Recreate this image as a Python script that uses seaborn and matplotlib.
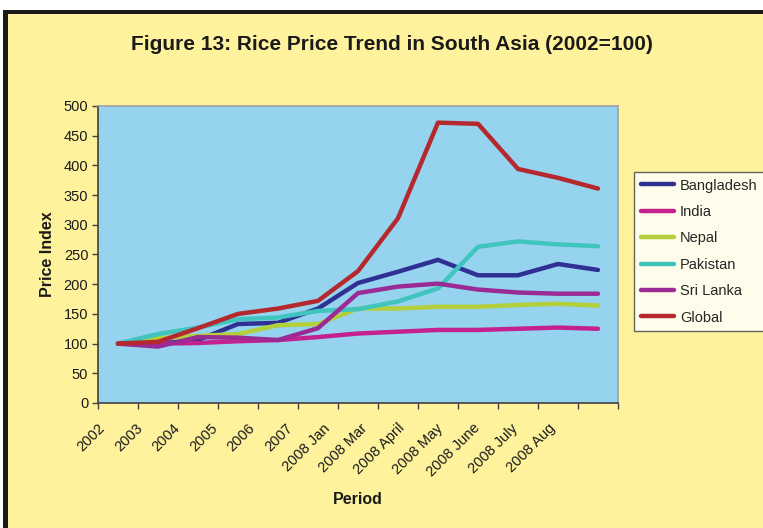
import pandas as pd
import numpy as np
import matplotlib
matplotlib.use("Agg")
import matplotlib.pyplot as plt
import seaborn as sns
from matplotlib.patches import Rectangle
from matplotlib.lines import Line2D
from matplotlib.transforms import ScaledTranslation

# data
periods = ["2002", "2003", "2004", "2005", "2006", "2007", "2008 Jan",
           "2008 Mar", "2008 April", "2008 May", "2008 June", "2008 July", "2008 Aug"]
countries = ["Bangladesh", "India", "Nepal", "Pakistan", "Sri Lanka", "Global"]

bangladesh = [100, 100, 106, 133, 135, 159, 202, 221, 241, 215, 215, 234, 224]
india = [100, 100, 101, 104, 106, 111, 117, 120, 123, 123, 125, 127, 125]
nepal = [100, 109, 113, 116, 131, 133, 159, 159, 162, 162, 165, 167, 164]
pakistan = [100, 116, 127, 141, 144, 155, 158, 171, 193, 263, 272, 267, 264]
sri_lanka = [100, 95, 111, 110, 106, 126, 185, 196, 201, 191, 186, 184, 184]
global_idx = [100, 103, 126, 150, 159, 172, 222, 311, 472, 470, 394, 379, 361]

colors = ["#2E3192", "#C4208E", "#B3CF3B", "#3FC4BE", "#9B2B94", "#B5292E"]

series = [bangladesh, india, nepal, pakistan, sri_lanka, global_idx]
df = pd.DataFrame({
    "pos": np.tile(np.arange(len(periods)), len(countries)),
    "value": np.concatenate(series),
    "country": np.repeat(countries, len(periods)),
})

sns.set_theme(style="white")
plt.rcParams["font.family"] = ["Liberation Sans", "DejaVu Sans"]

fig = plt.figure(figsize=(7.63, 5.28), dpi=100)
fig.patch.set_facecolor("white")

# page frame: yellow panel with black border on top and left
fig.patches.append(Rectangle((7 / 763, 0), 1, 1 - 13 / 528, transform=fig.transFigure,
                             facecolor="#FEF29C", edgecolor="none", zorder=-3))
fig.patches.append(Rectangle((3 / 763, 0), 5 / 763, 1 - 10 / 528, transform=fig.transFigure,
                             facecolor="#1A1A1A", edgecolor="none", zorder=-2))
fig.patches.append(Rectangle((3 / 763, 1 - 14 / 528), 1, 4 / 528, transform=fig.transFigure,
                             facecolor="#1A1A1A", edgecolor="none", zorder=-2))

ax = fig.add_axes([98 / 763, 125 / 528, 520 / 763, 297 / 528])
ax.set_facecolor("#95D3EF")

sns.lineplot(data=df, x="pos", y="value", hue="country", hue_order=countries,
             palette=colors, linewidth=3.2, sort=False, legend=False, ax=ax)

ax.set_xlim(-0.5, len(periods) - 0.5)
ax.set_ylim(0, 500)
ax.set_yticks(np.arange(0, 501, 50))
ax.set_xticks(np.arange(len(periods)))
ax.set_xticklabels(periods, rotation=45, ha="right", rotation_mode="anchor", fontsize=10.5)
ax.set_xticks(np.arange(-0.5, len(periods), 1), minor=True)
ax.tick_params(axis="x", which="major", bottom=True, length=0, pad=13, labelcolor="#1A1A1A")
ax.tick_params(axis="x", which="minor", bottom=True, length=4, width=1,
               color="#404040", direction="out")
ax.tick_params(axis="y", which="major", left=True, length=4, width=1, color="#404040",
               direction="out", labelsize=10.5, pad=3, labelcolor="#1A1A1A")

# Excel packs the rotated labels a bit tighter than the categories
for i, lbl in enumerate(ax.get_xticklabels()):
    dx = (-20 - 2.5 * i) / 100
    lbl.set_transform(lbl.get_transform() + ScaledTranslation(dx, 0, fig.dpi_scale_trans))

for side in ["top", "right"]:
    ax.spines[side].set_color("#A0A0A0")
    ax.spines[side].set_linewidth(1.2)
for side in ["left", "bottom"]:
    ax.spines[side].set_color("#404040")
    ax.spines[side].set_linewidth(1.2)

ax.set_xlabel("Period", fontsize=11.5, fontweight="bold", color="#1A1A1A")
ax.set_ylabel("Price Index", fontsize=11.5, fontweight="bold", labelpad=6, color="#1A1A1A")
ax.xaxis.set_label_coords(0.5, -0.30)

fig.text(392 / 763, 1 - 45 / 528, "Figure 13: Rice Price Trend in South Asia (2002=100)",
         ha="center", va="center", fontsize=15, fontweight="bold", color="#1A1A1A")

handles = [Line2D([0], [0], color=c, lw=3.2) for c in colors]
leg = fig.legend(handles, countries, loc="upper left", bbox_to_anchor=(634 / 763, 1 - 172 / 528),
                 frameon=True, fancybox=False, fontsize=10.5, handlelength=2.3,
                 handletextpad=0.4, labelspacing=0.85, borderpad=0.45, borderaxespad=0)
leg.get_frame().set_edgecolor("#404040")
leg.get_frame().set_linewidth(1.0)
leg.get_frame().set_facecolor("white")

fig.savefig("out.png", dpi=100, facecolor=fig.get_facecolor())
